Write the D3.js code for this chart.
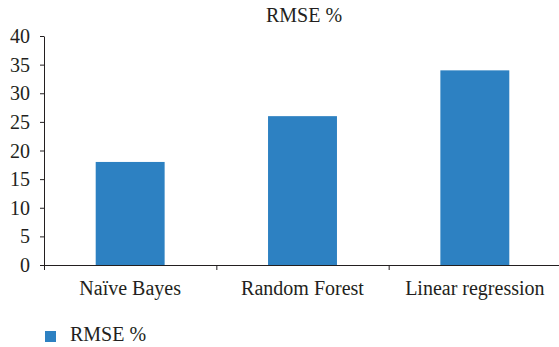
<!DOCTYPE html>
<html>
<head>
<meta charset="utf-8">
<script src="https://cdn.jsdelivr.net/npm/d3@7"></script>
</head>
<body style="margin:0">
<svg id="rmse-fig" width="559" height="347"></svg>
<script>
// RMSE by model
const categories = ["Naïve Bayes", "Random Forest", "Linear regression"];
const rmseValues = [18, 26, 34];
const yTicks = [0, 5, 10, 15, 20, 25, 30, 35, 40];
const seriesName = "RMSE %";

const FONT = '"Liberation Serif"';
const TEXT = "#231f20";
const barColor = "#2d81c2";

const svg = d3.select("#rmse-fig");
const margin = { left: 44, top: 36 };

const x = d3.scaleBand()
  .domain(categories)
  .range([margin.left, 561])
  .paddingInner(0.6)
  .paddingOuter(0.3);

const y = d3.scaleLinear()
  .domain([0, 40])
  .range([265, 36]);

function styleText(sel, size) {
  return sel.style("font-family", FONT).style("font-size", size + "px").attr("fill", TEXT);
}

// Title
styleText(svg.append("text")
  .attr("x", 304)
  .attr("y", 22)
  .attr("text-anchor", "middle")
  .text(seriesName), 20);

// Bars
svg.append("g")
  .selectAll("rect")
  .data(categories)
  .join("rect")
  .attr("x", d => x(d))
  .attr("width", x.bandwidth())
  .attr("y", (d, i) => y(rmseValues[i]))
  .attr("height", (d, i) => y(0) - y(rmseValues[i]))
  .attr("fill", barColor);

// Y axis
const yAxis = svg.append("g")
  .attr("transform", `translate(${margin.left},0)`)
  .call(d3.axisLeft(y).tickValues(yTicks).tickSize(4).tickPadding(10).tickSizeOuter(0));
yAxis.attr("font-family", null).attr("font-size", null);
styleText(yAxis.selectAll("text"), 20).attr("dy", "0.33em");
yAxis.selectAll("line, path").attr("stroke", TEXT);

// X axis with ticks at category boundaries
const step = x.step();
const boundaries = [0, 1, 2, 3].map(i => margin.left + i * step);
const xg = svg.append("g");
xg.append("line")
  .attr("x1", margin.left).attr("x2", 561)
  .attr("y1", y(0) + 0.5).attr("y2", y(0) + 0.5)
  .attr("stroke", TEXT);
xg.selectAll("line.tick")
  .data(boundaries)
  .join("line")
  .attr("class", "tick")
  .attr("x1", d => d + 0.5).attr("x2", d => d + 0.5)
  .attr("y1", y(0)).attr("y2", y(0) + 5)
  .attr("stroke", TEXT);
styleText(xg.selectAll("text.cat")
  .data(categories)
  .join("text")
  .attr("class", "cat")
  .attr("x", d => x(d) + x.bandwidth() / 2)
  .attr("y", 295)
  .attr("text-anchor", "middle")
  .text(d => d), 20);

// Legend
const legend = svg.append("g").attr("transform", "translate(45,331)");
legend.append("rect").attr("width", 11).attr("height", 11).attr("fill", barColor);
styleText(legend.append("text")
  .attr("x", 25).attr("y", 10)
  .text(seriesName), 20);
</script>
</body>
</html>
